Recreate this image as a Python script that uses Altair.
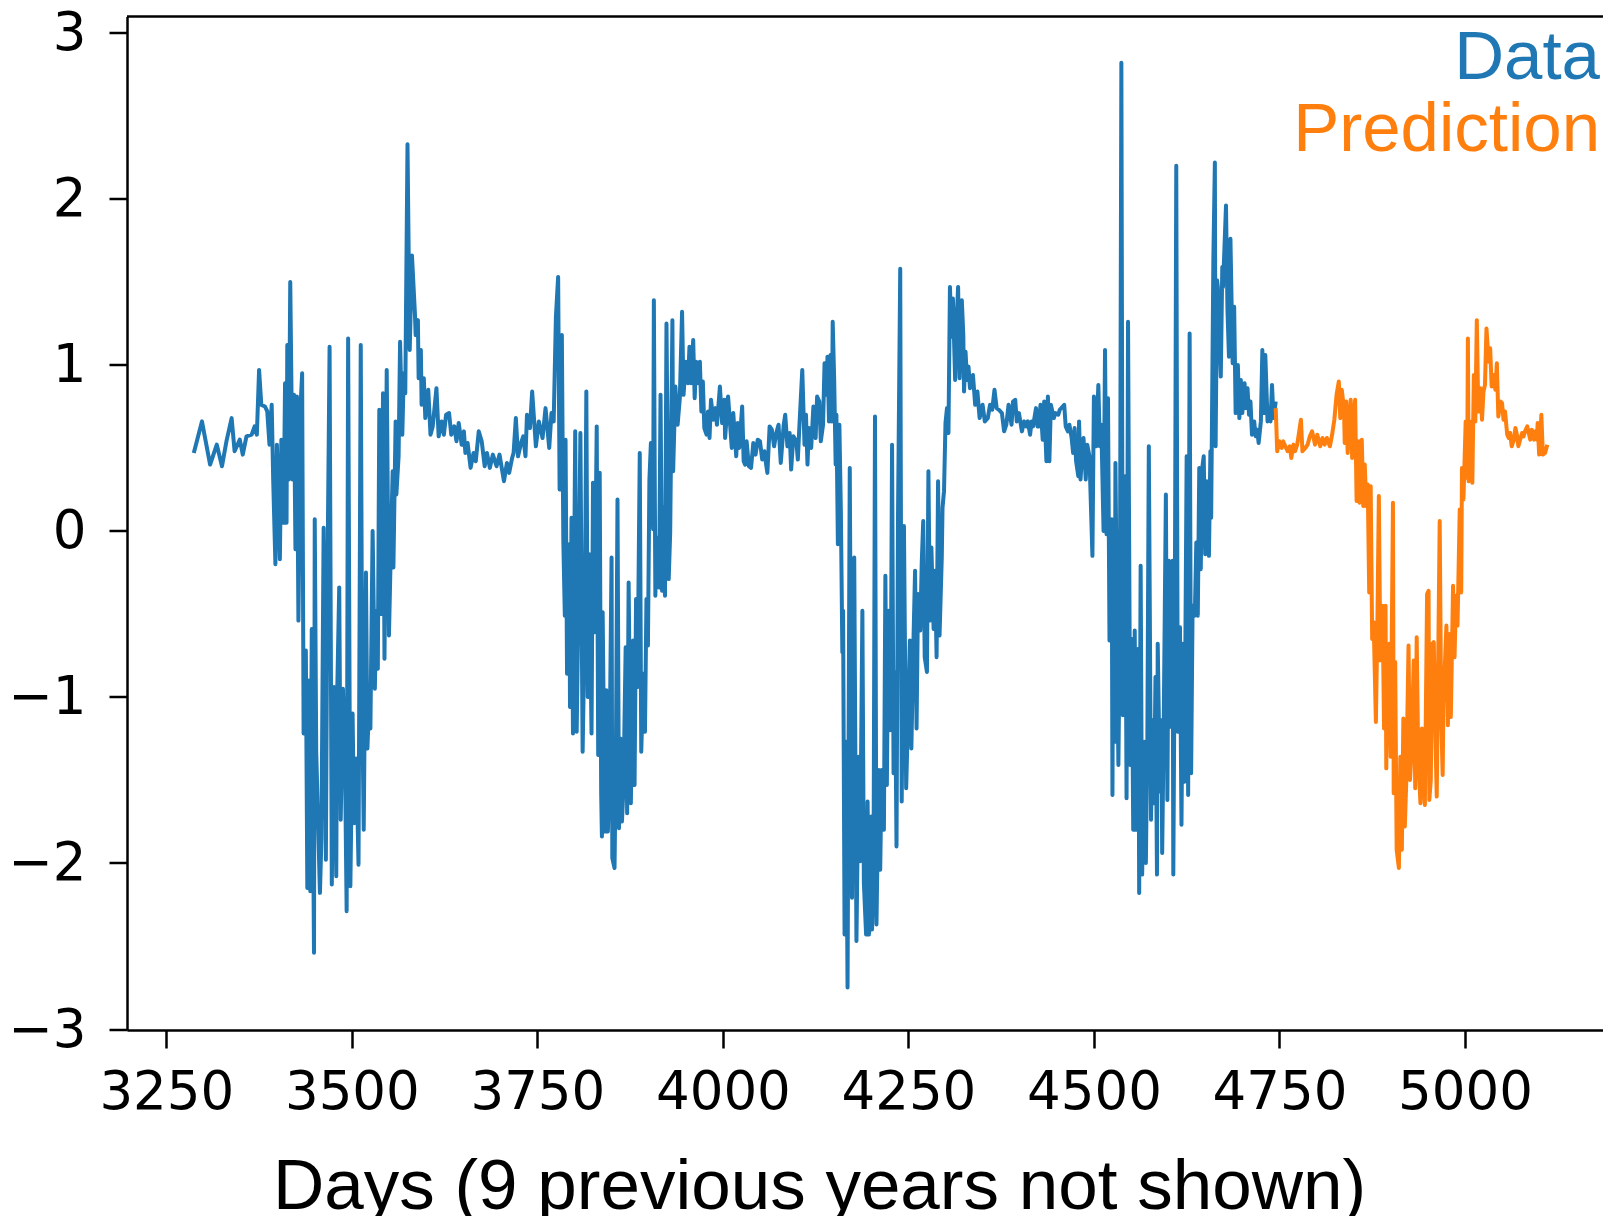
import altair as alt
import pandas as pd

# ---------------- data ----------------
blue_days = [
    3287, 3298, 3309, 3318, 3325, 3331, 3338, 3342, 3349, 3353, 3358, 3365, 3369, 3372, 3375,
    3378, 3383, 3386, 3389, 3392, 3394, 3397, 3399, 3403, 3405, 3408, 3410, 3412, 3413, 3415,
    3417, 3420, 3422, 3424, 3426, 3428, 3431, 3433, 3435, 3438, 3440, 3442, 3444, 3446, 3449,
    3450, 3452, 3457, 3459, 3462, 3465, 3467, 3470, 3473, 3476, 3479, 3480, 3483, 3485, 3488,
    3491, 3493, 3495, 3498, 3501, 3503, 3506, 3509, 3512, 3514, 3516, 3519, 3521, 3523, 3525,
    3528, 3531, 3533, 3535, 3537, 3540, 3542, 3544, 3547, 3550, 3552, 3555, 3556, 3559, 3560,
    3563, 3565, 3568, 3570, 3572, 3575,
    3578, 3581, 3585, 3586, 3589, 3590, 3593, 3594, 3597, 3599, 3603, 3606, 3609, 3614, 3617,
    3621, 3624, 3627, 3631, 3634, 3638, 3641, 3644, 3648, 3651, 3653, 3656, 3660, 3664, 3667,
    3671, 3675, 3679, 3682, 3686, 3690, 3695, 3699, 3702, 3705, 3709, 3712, 3716, 3718, 3721,
    3724, 3728, 3731, 3734,
    3736, 3740, 3743, 3748, 3752, 3757, 3761, 3766, 3769, 3772, 3775, 3778, 3780, 3783, 3785,
    3787, 3788, 3790, 3793, 3794, 3796, 3798, 3801, 3803, 3806, 3808, 3811, 3814, 3816, 3818,
    3820, 3823, 3825, 3827, 3830, 3832, 3834, 3836, 3837, 3838, 3841, 3843, 3845, 3847, 3850,
    3851, 3854, 3856, 3858, 3860, 3862, 3864, 3866, 3869, 3871, 3873, 3876, 3879, 3881, 3883,
    3885, 3888, 3890, 3893, 3895, 3897, 3899, 3901, 3903, 3906, 3907, 3909, 3911, 3914, 3916,
    3918, 3920, 3922, 3924, 3927, 3929, 3932, 3933, 3936, 3939, 3942, 3945, 3947, 3950, 3953,
    3955, 3957, 3960, 3962, 3964, 3967, 3969, 3971, 3973, 3975, 3978, 3980, 3982, 3984, 3987,
    3990, 3992,
    3996, 3999, 4002, 4003, 4007, 4012, 4014, 4018, 4020, 4022, 4026, 4028, 4030, 4032, 4035,
    4038, 4041, 4044, 4047, 4050, 4053, 4056, 4058, 4060, 4063, 4066, 4069, 4072, 4075, 4078,
    4082, 4084, 4087, 4090, 4092, 4095, 4099, 4101, 4103, 4107, 4110, 4112, 4114, 4116, 4119,
    4122, 4125, 4127, 4130, 4132, 4135, 4137, 4139, 4141,
    4143, 4145, 4147, 4148, 4150, 4152, 4153, 4155, 4157, 4159, 4161, 4162, 4164, 4166, 4168,
    4171, 4174, 4177, 4180, 4183, 4185, 4188, 4190, 4193, 4195, 4197, 4200, 4201, 4203, 4205,
    4207, 4210, 4212, 4214, 4217, 4219, 4221, 4223, 4226, 4228, 4230, 4232, 4234, 4236, 4239,
    4241, 4244, 4247, 4250, 4252, 4254, 4257, 4259, 4261, 4263, 4266, 4268, 4270, 4272, 4275,
    4277, 4279, 4281, 4284, 4286, 4288, 4290, 4292, 4295, 4296, 4298, 4300, 4302, 4304, 4306,
    4308, 4310, 4313, 4315, 4317, 4319, 4322, 4324, 4325, 4327, 4329, 4331, 4333, 4336, 4337,
    4340, 4343, 4346, 4350, 4353, 4357, 4360, 4363, 4366, 4369, 4372, 4376, 4379, 4382, 4385,
    4389, 4391, 4394, 4396, 4399, 4403, 4406, 4409, 4411, 4414, 4416, 4418, 4422, 4424, 4426,
    4428, 4431, 4433, 4436, 4438, 4440, 4442, 4446, 4448, 4452, 4454, 4460, 4462, 4465, 4467,
    4470, 4472, 4474, 4476, 4479, 4480, 4482, 4484, 4486, 4489, 4491,
    4494, 4498, 4500, 4503, 4506, 4508, 4510, 4513, 4515, 4517, 4519, 4521, 4524, 4525, 4526,
    4528, 4529, 4533, 4535, 4537, 4539, 4542, 4544, 4546, 4549, 4551, 4553, 4555, 4557, 4560,
    4561, 4563, 4565, 4568, 4570, 4572, 4574, 4577, 4579, 4581, 4583, 4585, 4586, 4589, 4591,
    4592, 4594, 4597, 4599, 4601, 4604, 4606, 4607, 4609, 4611, 4613, 4616, 4618, 4620, 4622,
    4625, 4627, 4629, 4631, 4633, 4636, 4638, 4640, 4642, 4644, 4646, 4648, 4650, 4652, 4655,
    4657, 4658, 4661, 4663, 4664, 4666, 4667, 4671, 4673, 4674, 4678, 4680, 4682, 4684, 4687,
    4689, 4691, 4694, 4696, 4698, 4700, 4703, 4705, 4707, 4709, 4711, 4713, 4716, 4718, 4720,
    4722, 4725, 4727, 4729, 4731, 4734, 4736, 4738, 4740, 4742, 4745,
]
blue_values = [
    0.47, 0.66, 0.40, 0.52, 0.39, 0.54, 0.68, 0.48, 0.55, 0.46, 0.57, 0.58, 0.63, 0.58, 0.97,
    0.76, 0.75, 0.72, 0.52, 0.76, 0.31, -0.20, 0.52, -0.17, 0.55, 0.05, 0.89, 0.05, 1.12, 0.31,
    1.50, 0.31, 0.82, -0.11, 0.81, -0.54, 0.76, 0.95, -1.22, -0.72, -2.15, -0.90, -2.17, -0.59, -2.54,
    0.07, -1.33, -2.18, -1.85, 0.02, -1.98, -0.35, 1.11, -2.13, -0.94, -2.08, -1.04, -0.34, -1.74, -0.95,
    -1.49, -2.29, 1.16, -2.14, -1.10, -1.76, -1.37, -2.01, 1.12, -1.04, -1.80, -0.25, -1.31, -1.07, -1.19,
    0.00, -0.95, -0.48, -0.83, 0.73, -0.50, 0.83, -0.77, 0.97, -0.63, -0.22, 0.36, -0.22, 0.66, 0.22,
    0.45, 1.14, 0.58, 0.95, 0.83, 2.33,
    1.09, 1.66, 1.31, 1.18, 1.27, 0.92, 1.09, 0.76, 0.92, 0.68, 0.85, 0.58, 0.63, 0.86, 0.57,
    0.66, 0.58, 0.70, 0.71, 0.58, 0.63, 0.54, 0.65, 0.52, 0.60, 0.47, 0.53, 0.38, 0.47, 0.42,
    0.60, 0.54, 0.39, 0.47, 0.38, 0.46, 0.39, 0.46, 0.38, 0.30, 0.41, 0.35, 0.44, 0.47, 0.68,
    0.45, 0.53, 0.57, 0.45,
    0.70, 0.62, 0.84, 0.51, 0.66, 0.56, 0.74, 0.50, 0.71, 0.66, 1.29, 1.53, 0.25, 1.18, -0.06,
    -0.51, 0.55, -0.86, -0.08, -1.06, 0.08, -1.22, 0.60, -1.21, -0.21, 0.59, -1.33, -0.51, 0.84, -1.00,
    -0.14, -1.22, 0.29, -0.61, 0.63, -1.35, 0.35, -1.58, -1.84, -0.49, -1.81, -0.96, -1.81, -1.50, -0.16,
    -1.97, -2.03, -1.26, 0.19, -1.79, -1.25, -1.75, -1.55, -0.70, -1.70, -0.31, -1.64, -0.66, -1.53, -0.41,
    -0.94, 0.47, -1.33, -0.86, -1.21, -0.41, -0.69, 0.31, 0.53, 0.01, 1.39, -0.39, -0.04, -0.34, 0.82,
    -0.36, 0.14, -0.39, 1.25, -0.29, -0.01, 1.27, 0.36, 0.87, 0.64, 0.80, 1.32, 0.82, 1.02, 0.89,
    1.11, 0.89, 1.15, 0.80, 1.02, 0.89, 1.02, 0.72, 0.90, 0.62, 0.58, 0.72, 0.56, 0.79, 0.67,
    0.74, 0.64,
    0.87, 0.65, 0.79, 0.56, 0.81, 0.50, 0.71, 0.45, 0.65, 0.50, 0.75, 0.42, 0.40, 0.54, 0.39,
    0.38, 0.53, 0.46, 0.55, 0.54, 0.43, 0.48, 0.41, 0.35, 0.63, 0.61, 0.51, 0.59, 0.64, 0.41,
    0.64, 0.70, 0.51, 0.59, 0.37, 0.57, 0.54, 0.43, 0.62, 0.97, 0.52, 0.70, 0.40, 0.62, 0.50,
    0.75, 0.56, 0.81, 0.78, 0.54, 0.64, 1.01, 0.82, 1.05,
    0.66, 1.06, 0.66, 1.26, 0.91, 0.40, 0.70, -0.08, 0.64, 0.12, -0.73, -0.48, -2.43, -1.27, -2.75,
    0.38, -2.21, -0.16, -2.47, -1.36, -1.99, -0.48, -2.12, -2.43, -1.63, -2.43, -1.72, -2.40, -2.09, 0.69,
    -2.37, -1.44, -2.04, -1.44, -1.80, -0.27, -1.53, -0.48, -1.20, 0.52, -1.46, -0.85, -1.90, 0.08, 1.58,
    -1.63, 0.03, -1.55, -1.04, -0.66, -1.31, -0.63, -0.24, -1.19, -0.38, -0.60, -0.19, 0.06, -0.76, -0.85,
    0.36, -0.54, -0.10, -0.59, -0.24, -0.76, 0.30, -0.63, -0.16, 0.14, 0.24, 0.65, 0.74, 0.59, 1.47,
    1.17, 1.40, 0.91, 1.26, 1.47, 0.92, 1.39, 1.18, 0.84, 1.08, 0.91, 0.99, 0.86, 0.92, 0.94,
    0.76, 0.84, 0.68, 0.76, 0.66, 0.68, 0.76, 0.73, 0.85, 0.74, 0.73, 0.71, 0.60, 0.64, 0.76,
    0.64, 0.78, 0.79, 0.66, 0.71, 0.60, 0.66, 0.63, 0.66, 0.58, 0.66, 0.63, 0.74, 0.63, 0.63,
    0.76, 0.55, 0.78, 0.42, 0.81, 0.42, 0.76, 0.68, 0.71, 0.70, 0.73, 0.76, 0.63, 0.60, 0.64,
    0.56, 0.47, 0.62, 0.42, 0.33, 0.66, 0.31, 0.47, 0.56, 0.31, 0.52,
    0.45, -0.15, 0.81, 0.51, 0.88, 0.51, 0.64, 0.00, 1.09, -0.02, 0.80, -0.66, 0.07, -1.59, -0.26,
    -1.27, 0.41, -1.41, -0.55, 2.82, -1.11, 0.33, -1.61, 1.26, -1.41, -0.65, -1.80, -0.60, -1.80, -0.71,
    -2.18, -0.21, -2.07, -1.27, -2.00, -1.27, 0.51, -1.74, -1.14, -1.64, -0.88, -2.07, -0.68, -1.57, -1.14,
    -1.94, -1.21, 0.22, -1.62, -0.18, -1.18, -0.18, -2.07, -0.56, 2.20, -1.21, -0.58, -1.77, -0.68, -1.51,
    0.45, -1.59, 1.19, -1.46, -0.45, -0.51, -0.07, -0.51, 0.38, -0.23, 0.38, 0.45, -0.14, 0.30, -0.15,
    0.48, 0.08, 1.64, 2.22, 0.51, 1.51, 1.47, 0.93, 1.59, 1.47, 1.96, 1.33, 1.05, 1.76, 1.01,
    1.35, 0.71, 1.00, 0.68, 0.91, 0.71, 0.89, 0.74, 0.86, 0.70, 0.78, 0.58, 0.66, 0.57, 0.61,
    0.53, 0.66, 1.09, 0.71, 1.06, 0.66, 0.74, 0.66, 0.88, 0.68, 0.78,
]
pred_days = [
    4745, 4747, 4750, 4753, 4755, 4761, 4764, 4766, 4769, 4771, 4774, 4779, 4781, 4785, 4788,
    4791, 4794, 4798, 4801, 4805, 4808, 4811, 4814, 4818, 4821, 4824, 4827, 4830, 4832, 4834,
    4837, 4838, 4840, 4842, 4844, 4846, 4848, 4850, 4852, 4854, 4857, 4858, 4861, 4863, 4865,
    4867, 4869, 4871, 4873, 4875, 4877, 4880, 4882, 4884, 4886, 4889, 4891, 4893, 4894, 4896,
    4898, 4900, 4903, 4904, 4906, 4908, 4911, 4913, 4915, 4917, 4919, 4921, 4924, 4926, 4928,
    4931, 4933, 4935, 4937, 4940, 4942, 4944, 4946, 4949, 4951, 4952, 4954, 4956, 4958, 4960,
    4962, 4966, 4968, 4970, 4971, 4975, 4977, 4979, 4981, 4984, 4986, 4988, 4990, 4993, 4995,
    4996, 4998, 5001, 5003, 5004, 5005, 5007, 5010, 5012, 5014, 5016, 5018, 5021, 5023, 5025,
    5027, 5029, 5032, 5034, 5036, 5039, 5041, 5043, 5045, 5048, 5050, 5052, 5054, 5057, 5059,
    5061, 5063, 5066, 5068, 5070, 5072, 5075, 5077, 5079, 5081, 5084, 5086, 5088, 5090, 5093,
    5095, 5097, 5098, 5100, 5103, 5105, 5108, 5111,
]
pred_values = [
    0.74, 0.48, 0.54, 0.50, 0.54, 0.48, 0.51, 0.44, 0.52, 0.48, 0.52, 0.67, 0.48, 0.50, 0.52,
    0.57, 0.60, 0.52, 0.58, 0.51, 0.56, 0.52, 0.56, 0.51, 0.58, 0.67, 0.82, 0.90, 0.68, 0.85,
    0.74, 0.53, 0.78, 0.47, 0.63, 0.79, 0.44, 0.69, 0.79, 0.18, 0.54, 0.17, 0.55, 0.15, 0.40,
    0.15, 0.28, -0.37, 0.27, -0.65, -0.55, -1.15, -0.57, 0.21, -0.78, -0.45, -1.19, -0.45, -1.43, -0.76,
    -0.68, -1.36, 0.17, -1.58, -0.79, -1.92, -2.03, -1.36, -1.92, -1.13, -1.78, -1.50, -0.69, -1.50, -1.33,
    -0.78, -1.55, -0.64, -1.34, -1.64, -1.19, -1.50, -1.65, -0.38, -0.36, -1.62, -1.50, -0.68, -0.67, -1.19,
    -1.60, 0.06, -1.12, -1.47, -1.04, -0.57, -1.17, -0.62, -1.12, -0.33, -0.76, -0.39, -0.57, 0.13, -0.37,
    0.38, 0.19, 0.66, 0.32, 1.16, 0.30, 0.66, 0.29, 0.94, 0.66, 1.27, 0.72, 0.86, 0.67, 0.84,
    0.88, 1.22, 1.02, 1.10, 0.87, 0.94, 0.85, 1.01, 0.69, 0.78, 0.77, 0.67, 0.72, 0.58, 0.56,
    0.59, 0.51, 0.55, 0.62, 0.58, 0.51, 0.56, 0.59, 0.57, 0.60, 0.63, 0.59, 0.55, 0.61, 0.55,
    0.60, 0.55, 0.65, 0.46, 0.70, 0.46, 0.47, 0.52,
]
x_ticks = [3250, 3500, 3750, 4000, 4250, 4500, 4750, 5000]
y_ticks = [-3, -2, -1, 0, 1, 2, 3]
series_names = ["Data", "Prediction"]
series_colors = ["#1f77b4", "#ff7f0e"]
x_title = "Days (9 previous years not shown)"

# ---------------- layout ----------------
# svg must stay inside the 1611x1224 window (8px page margin each side)
W, H = 1476, 1013.5
X_LO = 3197
X_HI = X_LO + W / 0.74206

df = pd.concat([
    pd.DataFrame({"day": blue_days, "value": blue_values, "series": series_names[0]}),
    pd.DataFrame({"day": pred_days, "value": pred_values, "series": series_names[1]}),
], ignore_index=True)
legend_df = pd.DataFrame({"series": series_names})

color_scale = alt.Scale(domain=series_names, range=series_colors)

lines = alt.Chart(df).mark_line(strokeWidth=4, strokeJoin="round", clip=True).encode(
    x=alt.X("day:Q",
            scale=alt.Scale(domain=[X_LO, X_HI], nice=False, zero=False),
            axis=alt.Axis(values=x_ticks, format="d", title=x_title,
                          labelFont="DejaVu Sans", labelFontSize=53, labelPadding=18,
                          labelFlush=False, labelOverlap=False,
                          tickSize=18, tickWidth=2.5, domainWidth=2.5,
                          titleFont="Liberation Sans", titleFontSize=71, titleFontWeight="normal",
                          titleX=692, titleY=178, titleBaseline="alphabetic", titleAlign="center")),
    y=alt.Y("value:Q",
            scale=alt.Scale(domain=[-3.006, 3.099], nice=False, zero=False),
            axis=alt.Axis(values=y_ticks, title=None,
                          labelExpr="datum.value < 0 ? '\u2212' + abs(datum.value) : '' + datum.value",
                          labelFont="DejaVu Sans", labelFontSize=53, labelPadding=23,
                          labelBaseline="alphabetic", labelOffset=17,
                          labelFlush=False, labelOverlap=False,
                          tickSize=18, tickWidth=2.5, domainWidth=2.5)),
    color=alt.Color("series:N", scale=color_scale, legend=None),
    detail="series:N",
)

top_spine = alt.Chart(pd.DataFrame({"s": [0]})).mark_rule(color="black", strokeWidth=2.5).encode(
    x=alt.value(0), x2=alt.value(W), y=alt.value(0)
)

label_data = alt.Chart(legend_df).transform_filter(
    alt.datum.series == series_names[0]
).mark_text(align="right", baseline="alphabetic", font="Liberation Sans", fontSize=69).encode(
    x=alt.value(1473), y=alt.value(62), text="series:N",
    color=alt.Color("series:N", scale=color_scale, legend=None),
)
label_pred = alt.Chart(legend_df).transform_filter(
    alt.datum.series == series_names[1]
).mark_text(align="right", baseline="alphabetic", font="Liberation Sans", fontSize=69).encode(
    x=alt.value(1473), y=alt.value(134), text="series:N",
    color=alt.Color("series:N", scale=color_scale, legend=None),
)

chart = alt.layer(lines, top_spine, label_data, label_pred).properties(
    width=W, height=H,
    autosize=alt.AutoSizeParams(type="none"),
    padding={"left": 119, "top": 8.5, "right": 0, "bottom": 186},
    background="white",
).configure_view(stroke=None).configure_axis(
    grid=False, domainColor="black", tickColor="black", labelColor="black", titleColor="black"
)

chart.save("out.html", embed_options={"renderer": "svg", "actions": False})
